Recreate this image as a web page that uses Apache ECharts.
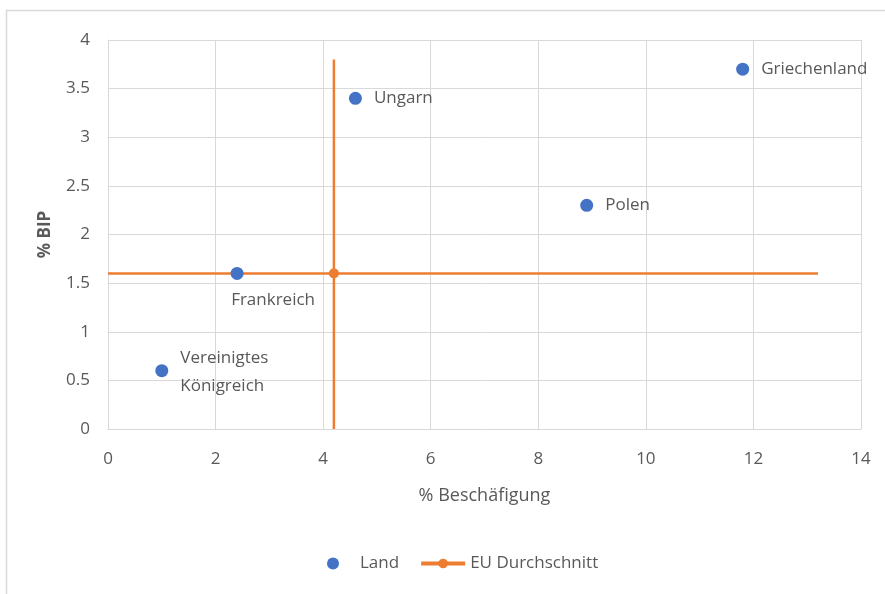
<!DOCTYPE html>
<html>
<head>
<meta charset="utf-8">
<script src="https://cdn.jsdelivr.net/npm/echarts@6/dist/echarts.min.js"></script>
<style>
  html, body { margin: 0; padding: 0; background: #fff; }
  #chart { width: 885px; height: 594px; }
</style>
</head>
<body>
<div id="chart"></div>
<script>
// Countries: employment share (x) vs. GDP share (y)
const countries = ['Vereinigtes\nKönigreich', 'Frankreich', 'Ungarn', 'Polen', 'Griechenland'];
const employment = [1.0, 2.4, 4.6, 8.9, 11.8];
const gdp = [0.6, 1.6, 3.4, 2.3, 3.7];

// EU average and the extent of its cross-hair lines
const euAvgX = 4.2;
const euAvgY = 1.6;
const hLineX = [0, 13.2];
const vLineY = [0, 3.8];

const xTicks = { min: 0, max: 14, interval: 2 };
const yTicks = { min: 0, max: 4, interval: 0.5 };

const FONT = 'Open Sans';
const TEXT = '#595959';
const GRID = '#d9d9d9';
const BLUE = '#4472C4';
const ORANGE = '#ED7D31';

// Label placement per country
const labelPos = {
  'Vereinigtes\nKönigreich': { position: 'right', distance: 12, align: 'left', lineHeight: 28, offset: [0, 2] },
  'Frankreich': { position: 'bottom', distance: 12, offset: [36, 0] },
  'Ungarn': { position: 'right', distance: 12 },
  'Polen': { position: 'right', distance: 12 },
  'Griechenland': { position: 'right', distance: 12 }
};

const landData = countries.map((name, i) => ({
  name: name,
  value: [employment[i], gdp[i]],
  label: Object.assign({ show: true, formatter: '{b}' }, labelPos[name])
}));

const chart = echarts.init(document.getElementById('chart'), null, { renderer: 'canvas' });

chart.setOption({
  animation: false,
  backgroundColor: '#fff',
  textStyle: { fontFamily: FONT, color: TEXT },
  graphic: [{
    type: 'rect',
    shape: { x: 6.5, y: 10.5, width: 1000, height: 1000 },
    style: { fill: 'none', stroke: '#d9d9d9', lineWidth: 1.5 },
    silent: true,
    z: -10
  }],
  grid: { left: 108, right: 24, top: 40, bottom: 165, containLabel: false },
  legend: {
    bottom: 17,
    left: 322,
    itemGap: 20,
    itemWidth: 44,
    itemHeight: 12,
    textStyle: { fontFamily: FONT, fontSize: 17, color: TEXT },
    data: [
      { name: 'Land', icon: 'circle', itemStyle: { color: BLUE } },
      { name: 'EU Durchschnitt', lineStyle: { width: 4 } }
    ]
  },
  xAxis: {
    type: 'value',
    min: xTicks.min, max: xTicks.max, interval: xTicks.interval,
    name: '% Beschäfigung',
    nameLocation: 'middle',
    nameGap: 58,
    nameTextStyle: { fontFamily: FONT, fontSize: 18, color: TEXT },
    axisLine: { show: true, lineStyle: { color: GRID, width: 1 } },
    axisTick: { show: false },
    axisLabel: { fontFamily: FONT, fontSize: 17, color: TEXT, margin: 22 },
    splitLine: { show: true, lineStyle: { color: GRID, width: 1 } }
  },
  yAxis: {
    type: 'value',
    min: yTicks.min, max: yTicks.max, interval: yTicks.interval,
    name: '% BIP',
    nameLocation: 'middle',
    nameGap: 54,
    nameRotate: 90,
    nameTextStyle: { fontFamily: FONT, fontSize: 17, color: TEXT, fontWeight: 'bold' },
    axisLine: { show: true, lineStyle: { color: GRID, width: 1 } },
    axisTick: { show: false },
    axisLabel: { fontFamily: FONT, fontSize: 17, color: TEXT, margin: 18 },
    splitLine: { show: true, lineStyle: { color: GRID, width: 1 } }
  },
  series: [
    {
      name: 'Land',
      type: 'scatter',
      symbol: 'circle',
      symbolSize: 13,
      itemStyle: { color: BLUE, opacity: 1 },
      label: { fontFamily: FONT, fontSize: 17, color: TEXT },
      data: landData,
      z: 5
    },
    {
      name: 'EU Durchschnitt',
      type: 'line',
      symbol: 'circle',
      symbolSize: 10,
      showSymbol: true,
      itemStyle: { color: ORANGE },
      lineStyle: { color: ORANGE, width: 2.5 },
      data: [
        { value: [hLineX[0], euAvgY], symbolSize: 0 },
        { value: [euAvgX, euAvgY] },
        { value: [hLineX[1], euAvgY], symbolSize: 0 }
      ],
      z: 4
    },
    {
      name: 'EU Durchschnitt',
      type: 'line',
      symbol: 'none',
      itemStyle: { color: ORANGE },
      lineStyle: { color: ORANGE, width: 2.5 },
      data: [[euAvgX, vLineY[0]], [euAvgX, vLineY[1]]],
      z: 3
    }
  ]
});
</script>
</body>
</html>
